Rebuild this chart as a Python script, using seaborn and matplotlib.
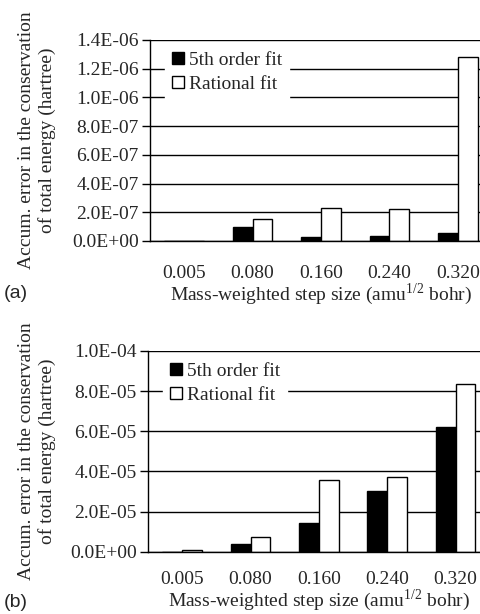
import numpy as np
import pandas as pd
import matplotlib
matplotlib.use("Agg")
import matplotlib.pyplot as plt
import seaborn as sns
from matplotlib.patches import Patch
from matplotlib.ticker import FuncFormatter, FixedLocator, MultipleLocator

# Dados
passos = ["0.005", "0.080", "0.160", "0.240", "0.320"]
series = ["5th order fit", "Rational fit"]

# painel (a)
a_quinta = [3e-9, 1.0e-7, 2.6e-8, 3.5e-8, 5.5e-8]
a_racional = [0.0, 1.5e-7, 2.3e-7, 2.2e-7, 1.28e-6]
# painel (b)
b_quinta = [0.0, 3.6e-6, 1.41e-5, 3.03e-5, 6.22e-5]
b_racional = [1.0e-6, 7.4e-6, 3.55e-5, 3.7e-5, 8.37e-5]

a_yticks = [0, 2e-7, 4e-7, 6e-7, 8e-7, 1.0e-6, 1.2e-6, 1.4e-6]
b_yticks = [0, 2e-5, 4e-5, 6e-5, 8e-5, 1.0e-4]

sns.set_style("white")
plt.rcParams.update({
    "font.family": ["Liberation Serif", "DejaVu Serif"],
    "font.size": 14,
    "mathtext.fontset": "custom",
    "mathtext.rm": "Liberation Serif",
    "axes.edgecolor": "black",
    "axes.linewidth": 1.0,
})

def tabela(quinta, racional):
    return pd.DataFrame({
        "passo": passos * 2,
        "serie": [series[0]] * len(passos) + [series[1]] * len(passos),
        "erro": quinta + racional,
    })

def painel(ax, df, yticks, leg_y, ylab_x, tick_pad, xlab_pad):
    sns.barplot(data=df, x="passo", y="erro", hue="serie", order=passos,
                hue_order=series, palette={series[0]: "black", series[1]: "white"},
                edgecolor="black", linewidth=1.0, width=0.58, ax=ax,
                legend=False, errorbar=None)
    ax.set_xlim(-0.5, 4.5)
    ax.set_ylim(0, yticks[-1])
    ax.yaxis.set_major_locator(FixedLocator(yticks))
    ax.yaxis.set_major_formatter(FuncFormatter(lambda v, p: f"{v:.1E}"))
    ax.set_axisbelow(True)
    ax.grid(axis="y", color="black", linewidth=1.0)
    ax.grid(axis="x", visible=False)
    for s in ["top", "right"]:
        ax.spines[s].set_visible(False)
    ax.xaxis.set_minor_locator(MultipleLocator(1, offset=0.5))
    ax.tick_params(axis="x", which="major", length=0, pad=tick_pad)
    ax.tick_params(axis="x", which="minor", length=7, width=1, color="black", direction="out")
    ax.tick_params(axis="y", length=6, width=1, color="black", direction="out", pad=2, left=True)
    ax.set_xlabel("Mass-weighted step size (amu$^{\\mathregular{1/2}}$ bohr)", labelpad=xlab_pad)
    ax.set_ylabel("Accum. error in the conservation\nof total energy (hartree)",
                  linespacing=1.2)
    ax.yaxis.set_label_coords(ylab_x, 0.5)
    handles = [Patch(facecolor="black", edgecolor="black", label=series[0]),
               Patch(facecolor="white", edgecolor="black", label=series[1])]
    leg = ax.legend(handles=handles, loc="upper left", bbox_to_anchor=(0.045, leg_y),
                    frameon=True, fancybox=False, framealpha=1, edgecolor="white",
                    facecolor="white", handlelength=0.62, handleheight=0.62,
                    handletextpad=0.26, labelspacing=0.35, borderpad=0.35,
                    borderaxespad=0, fontsize=14)
    leg.set_zorder(5)

fig = plt.figure(figsize=(4.8, 6.14), dpi=100)
ax_a = fig.add_axes([0.3125, 0.6075, 0.7125, 0.3274])
ax_b = fig.add_axes([0.3083, 0.1015, 0.712, 0.327])

painel(ax_a, tabela(a_quinta, a_racional), a_yticks, 0.975, -0.275, 17, 0)
painel(ax_b, tabela(b_quinta, b_racional), b_yticks, 0.975, -0.269, 14, -0.5)

fig.text(0.008, 0.522, "(a)", family="Liberation Sans", fontsize=14, va="center")
fig.text(0.008, 0.018, "(b)", family="Liberation Sans", fontsize=14, va="center")

fig.savefig("out.png", dpi=100)
